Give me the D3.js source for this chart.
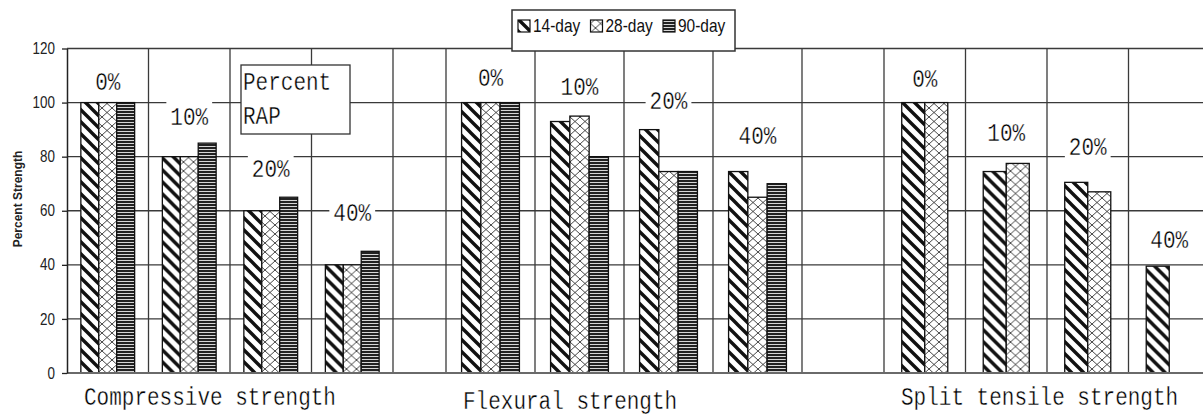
<!DOCTYPE html>
<html>
<head>
<meta charset="utf-8">
<script src="https://cdn.jsdelivr.net/npm/d3@7"></script>
<style>
  body { margin: 0; background: #fff; }
  svg { display: block; }
</style>
</head>
<body>
<svg width="1203" height="418"></svg>
<script>
// Values, percent of the 0% RAP strength
const series = ['14-day', '28-day', '90-day'];
const levels = ['0%', '10%', '20%', '40%'];
const compressive = [[100, 100, 100], [80, 80, 85], [60, 60, 65], [40, 40, 45]];
const flexural = [[100, 100, 100], [93, 95, 80], [90, 74.5, 74.5], [74.5, 65, 70]];
const splitTensile = [[100, 100], [74.5, 77.5], [70.5, 67], [39.5, null]];
const yTicks = [0, 20, 40, 60, 80, 100, 120];
const panelTitles = ['Compressive strength', 'Flexural strength', 'Split tensile strength'];
const rapTitle = ['Percent', 'RAP'];
const yTitle = 'Percent Strength';

const MONO = '"Liberation Mono", "DejaVu Sans Mono", monospace';
const SANS = '"Liberation Sans", Arial, sans-serif';

const svg = d3.select('svg');
const plotLeft = 67, plotRight = 1203;

// Shared y scale (all three sub charts use the same 0-120 axis)
const y = d3.scaleLinear().domain([0, 120]).range([373, 48.5]);

// Each sub chart has its own band scale for the RAP levels
// labelAt = height (in y units) of the white level label box
const panels = [
    { title: panelTitles[0], values: compressive, keys: series, range: [67, 393], fill: 0.66, labelAt: [108, 95, 76, 59.5], titleY: 396 },
    { title: panelTitles[1], values: flexural, keys: series, range: [446, 802], fill: 0.65, labelAt: [109.5, 106, 101, 88], titleY: 400 },
    { title: panelTitles[2], values: splitTensile, keys: series.slice(0, 2), range: [884, 1210], fill: 0.565, labelAt: [109, 89.2, 84, 49.5], titleY: 396 }
];
panels.forEach(p => {
    p.x = d3.scaleBand().domain(levels).range(p.range);
    const bw = p.x.bandwidth();
    p.xi = d3.scaleBand().domain(p.keys).range([bw * (1 - p.fill) / 2, bw * (1 + p.fill) / 2]);
});

/*********** PATTERNS ************/
const defs = svg.append('defs');

// 14-day: heavy back-slash hatching
const p14 = defs.append('pattern').attr('id', 'pat-14-day')
    .attr('patternUnits', 'userSpaceOnUse').attr('width', 12).attr('height', 12);
p14.append('rect').attr('width', 12).attr('height', 12).attr('fill', '#fff');
p14.append('path').attr('d', 'M-3,9 L3,15 M0,0 L12,12 M9,-3 L15,3')
    .attr('stroke', '#111').attr('stroke-width', 3.4);

// 28-day: thin diamond / zig-zag lattice
const p28 = defs.append('pattern').attr('id', 'pat-28-day')
    .attr('patternUnits', 'userSpaceOnUse').attr('width', 10).attr('height', 9);
p28.append('rect').attr('width', 10).attr('height', 9).attr('fill', '#fff');
p28.append('path').attr('d', 'M0,4.5 L5,0 L10,4.5 L5,9 Z')
    .attr('fill', 'none').attr('stroke', '#333').attr('stroke-width', 0.9);

// 90-day: dense horizontal stripes
const p90 = defs.append('pattern').attr('id', 'pat-90-day')
    .attr('patternUnits', 'userSpaceOnUse').attr('width', 4).attr('height', 3);
p90.append('rect').attr('width', 4).attr('height', 3).attr('fill', '#d6d6d6');
p90.append('rect').attr('width', 4).attr('height', 2).attr('fill', '#222');

/*********** GRID ************/
const grid = svg.append('g');
grid.selectAll('line.h').data(yTicks.filter(d => d > 0)).join('line')
    .attr('class', 'h')
    .attr('x1', plotLeft).attr('x2', plotRight)
    .attr('y1', d => y(d)).attr('y2', d => y(d))
    .attr('stroke', '#3a3a3a').attr('stroke-width', 1.3);

// vertical lines at every level cell boundary and at the end of each sub chart
const vLines = [];
panels.forEach(p => {
    levels.forEach(l => vLines.push(p.x(l)));
    vLines.push(p.range[1]);
});
grid.selectAll('line.v').data(vLines.filter(v => v > plotLeft + 1 && v < plotRight)).join('line')
    .attr('class', 'v')
    .attr('x1', d => d).attr('x2', d => d)
    .attr('y1', y(120)).attr('y2', y(0))
    .attr('stroke', '#3a3a3a').attr('stroke-width', 1.3);

/*********** BARS ************/
panels.forEach(p => {
    const rows = p.values.map((vals, i) => ({ level: levels[i], vals }));
    svg.append('g').selectAll('g').data(rows).join('g')
        .attr('transform', d => `translate(${p.x(d.level)},0)`)
        .selectAll('rect')
        .data(d => d.vals.map((v, j) => ({ key: p.keys[j], v })).filter(d => d.v != null))
        .join('rect')
        .attr('x', d => p.xi(d.key))
        .attr('width', p.xi.bandwidth())
        .attr('y', d => y(d.v))
        .attr('height', d => y(0) - y(d.v))
        .attr('fill', d => `url(#pat-${d.key})`)
        .attr('stroke', '#111').attr('stroke-width', 1.3);
});

// Tall thin mono text, centred vertically on (x, cy)
const monoText = (parent, x, cy, str, anchor) => {
    const g = parent.append('g').attr('transform', `translate(${x},${cy})`);
    const t = g.append('g').attr('transform', 'scale(1,1.2)')
        .append('text')
        .attr('text-anchor', anchor)
        .attr('dy', '0.36em')
        .attr('font-family', MONO).attr('font-size', 21).attr('fill', '#000')
        .attr('stroke', '#fff').attr('stroke-width', 0.3) // thins the glyphs a little
        .text(str);
    return { g, t };
};

/*********** LEVEL LABELS ************/
panels.forEach(p => {
    const lg = svg.append('g');
    levels.forEach((l, i) => {
        const cx = p.x(l) + p.x.bandwidth() / 2;
        const { g, t } = monoText(lg, cx, y(p.labelAt[i]), l, 'middle');
        const w = t.node().getComputedTextLength() + 8;
        g.insert('rect', ':first-child')
            .attr('x', -w / 2).attr('y', -15).attr('width', w).attr('height', 30)
            .attr('fill', '#fff');
    });
});

/*********** PERCENT RAP BOX ************/
const rap = svg.append('g').attr('transform', `translate(${panels[0].x('20%') + 11},65)`);
rap.append('rect').attr('width', 109).attr('height', 69)
    .attr('fill', '#fff').attr('stroke', '#333').attr('stroke-width', 1.3);
rapTitle.forEach((s, i) => monoText(rap, 2, 16 + i * 34, s, 'start'));

/*********** AXES ************/
svg.append('line')
    .attr('x1', plotLeft).attr('x2', plotRight)
    .attr('y1', y(0)).attr('y2', y(0))
    .attr('stroke', '#6a6a6a').attr('stroke-width', 2);

// narrow tick labels: regular sans squeezed horizontally
const squeeze = 0.84;
const yAxis = d3.axisLeft(y).tickValues(yTicks).tickSize(5).tickSizeOuter(0).tickPadding(7);
svg.append('g')
    .attr('transform', `translate(${plotLeft},0)`)
    .call(yAxis)
    .attr('font-family', SANS).attr('font-size', 16)
    .call(g => g.select('.domain').attr('stroke', '#222').attr('stroke-width', 1.5))
    .call(g => g.selectAll('.tick line').attr('stroke', '#222').attr('stroke-width', 1.3))
    .call(g => g.selectAll('.tick text')
        .attr('fill', '#222')
        .attr('x', -12 / squeeze)
        .attr('transform', `scale(${squeeze},1)`));

svg.append('text')
    .attr('transform', 'translate(22,199) rotate(-90)')
    .attr('text-anchor', 'middle')
    .attr('font-family', SANS)
    .attr('font-weight', 'bold').attr('font-size', 12).attr('fill', '#222')
    .text(yTitle);

// sub chart titles under the axis
panels.forEach(p => monoText(svg, p.range[0] + 17, p.titleY, p.title, 'start'));

/*********** LEGEND ************/
const legend = svg.append('g').attr('transform', 'translate(512,10)');
legend.append('rect').attr('width', 223).attr('height', 41)
    .attr('fill', '#fff').attr('stroke', '#333').attr('stroke-width', 1.5);
const item = legend.selectAll('g').data(series).join('g')
    .attr('transform', (d, i) => `translate(${6 + i * 72.5},9)`);
item.append('rect').attr('width', 12).attr('height', 12).attr('y', 1)
    .attr('fill', d => `url(#pat-${d})`).attr('stroke', '#111').attr('stroke-width', 1.2);
item.append('text')
    .attr('transform', 'translate(15,13) scale(0.86,1)')
    .attr('font-family', SANS).attr('font-size', 18).attr('fill', '#111')
    .text(d => d);
</script>
</body>
</html>
